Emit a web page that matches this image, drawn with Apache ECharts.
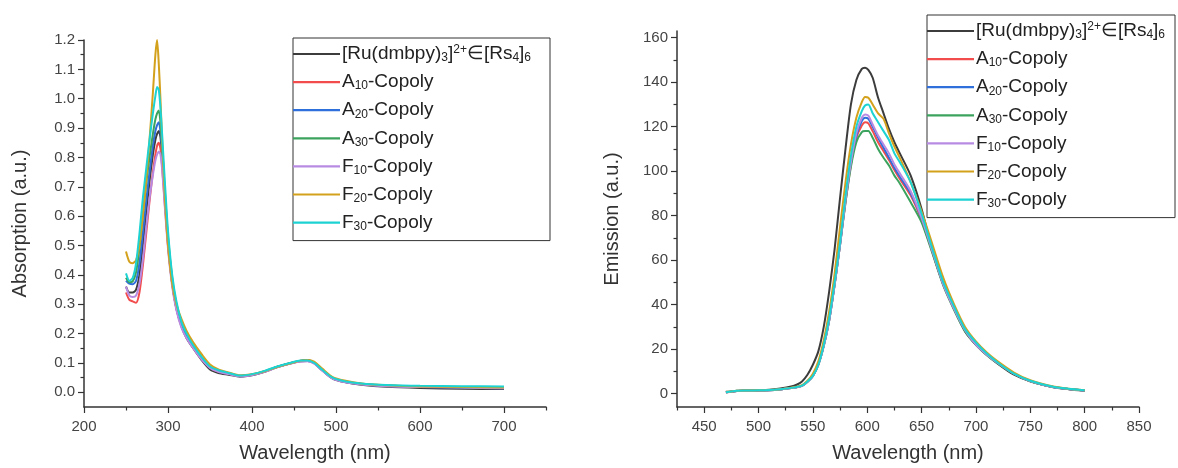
<!DOCTYPE html>
<html>
<head>
<meta charset="utf-8">
<script src="https://cdn.jsdelivr.net/npm/echarts@6/dist/echarts.min.js"></script>
<style>
html,body{margin:0;padding:0;background:#fff;}
#main{width:1178px;height:468px;}
</style>
</head>
<body>
<div id="main"></div>
<script>
// ---------- Absorption (left panel) ----------
const absWl = [250,254,258,262,266,270,274,278,282,285,287,289,291,293,296,300,305,310,316,322,330,340,350,360,372,386,400,415,430,445,458,466,474,484,496,510,530,560,600,650,700];
const absRu  = [0.36,0.34,0.34,0.35,0.40,0.50,0.61,0.72,0.81,0.86,0.88,0.89,0.87,0.80,0.67,0.51,0.37,0.285,0.225,0.185,0.15,0.11,0.078,0.066,0.060,0.053,0.058,0.070,0.086,0.099,0.108,0.110,0.100,0.074,0.047,0.035,0.026,0.019,0.015,0.012,0.011];
const absA10 = [0.34,0.315,0.31,0.305,0.34,0.43,0.54,0.65,0.75,0.81,0.84,0.85,0.83,0.77,0.65,0.50,0.37,0.285,0.225,0.188,0.152,0.113,0.084,0.071,0.063,0.055,0.060,0.071,0.086,0.098,0.106,0.107,0.099,0.074,0.048,0.036,0.028,0.022,0.019,0.017,0.015];
const absA20 = [0.38,0.37,0.368,0.38,0.44,0.54,0.65,0.75,0.84,0.89,0.91,0.92,0.89,0.82,0.68,0.52,0.38,0.29,0.23,0.19,0.155,0.115,0.085,0.072,0.064,0.055,0.060,0.071,0.086,0.098,0.106,0.107,0.099,0.074,0.048,0.036,0.028,0.022,0.018,0.016,0.014];
const absA30 = [0.39,0.375,0.378,0.41,0.49,0.60,0.71,0.80,0.88,0.93,0.95,0.96,0.92,0.84,0.70,0.53,0.39,0.30,0.24,0.20,0.16,0.12,0.087,0.074,0.065,0.056,0.061,0.072,0.087,0.099,0.107,0.108,0.100,0.075,0.049,0.037,0.029,0.023,0.019,0.017,0.015];
const absF10 = [0.36,0.33,0.325,0.33,0.37,0.45,0.56,0.66,0.74,0.79,0.81,0.82,0.81,0.76,0.64,0.49,0.36,0.28,0.22,0.185,0.15,0.112,0.083,0.070,0.062,0.054,0.059,0.070,0.085,0.097,0.105,0.106,0.098,0.073,0.047,0.035,0.027,0.021,0.018,0.016,0.014];
const absF20 = [0.48,0.445,0.44,0.45,0.50,0.60,0.72,0.86,1.02,1.15,1.20,1.12,1.00,0.86,0.68,0.50,0.37,0.30,0.25,0.21,0.17,0.13,0.095,0.078,0.068,0.058,0.062,0.072,0.086,0.098,0.108,0.110,0.105,0.080,0.052,0.040,0.030,0.024,0.020,0.018,0.016];
const absF30 = [0.405,0.38,0.39,0.44,0.54,0.66,0.76,0.86,0.95,1.01,1.04,1.03,0.97,0.88,0.73,0.55,0.40,0.31,0.24,0.20,0.16,0.12,0.088,0.075,0.066,0.057,0.062,0.073,0.088,0.100,0.108,0.108,0.100,0.076,0.050,0.038,0.030,0.025,0.022,0.021,0.020];

// ---------- Emission (right panel) ----------
const emWl = [470,475,480,490,500,510,520,530,535,540,545,550,555,560,565,570,575,580,585,590,595,598,601,605,610,615,620,625,630,640,650,660,670,680,690,700,710,720,735,750,770,785,800];
const emRu  = [0.8,1.0,1.3,1.4,1.5,1.7,2.3,3.2,4.0,5.5,8.5,13,19,30,46,65,88,110,130,141,146,146.5,145.5,142,133,126,119,113,108,98,83,64,49,38,28,22,17.5,13.5,8.5,5.5,3.0,2.0,1.3];
const emA10 = [0.5,0.9,1.2,1.3,1.4,1.5,1.9,2.5,2.9,3.5,5.3,8.0,13,21.5,33,49,67,86,103,115,120.5,122,121.5,118,113,109,105,100.5,96.5,89,78,63.5,49,38,28.5,22,17.5,13.8,9,5.6,3.1,2.1,1.4];
const emA20 = [0.6,0.9,1.2,1.3,1.4,1.5,1.9,2.5,2.9,3.5,5.3,8.0,13,21.5,33,49,67,87,104,116,122.5,124,123.5,120,115,110.5,106,101.5,97.5,90,79,64,49.5,38.5,28.5,22,17.5,13.8,9,5.7,3.1,2.1,1.4];
const emA30 = [0.6,0.9,1.2,1.3,1.4,1.5,1.9,2.5,2.9,3.5,5.3,8.0,13,21.5,33,49,67,86,102,113,117.5,118,118,115,110,106,102.5,98,94.5,86,77,63,48.5,37.5,28,22,17.3,13.6,8.9,5.6,3.1,2.1,1.4];
const emF10 = [0.6,0.9,1.2,1.3,1.4,1.5,1.9,2.5,2.9,3.5,5.3,8.0,13,21.5,33,49,67,87,104,117,124,125.5,125,121,116,112,108,103,99,91,79,64,49,38,28.5,22,17.5,13.8,9,5.7,3.1,2.1,1.4];
const emF20 = [0.7,1.0,1.3,1.4,1.5,1.6,2.0,2.7,3.1,3.8,5.8,9.0,14.5,24,37,54,75,95,112,124,131,133.3,133,130,126,123.5,117,111,106,95,82,67,52,40,30,23.5,18.5,14.5,9.5,6.0,3.3,2.2,1.5];
const emF30 = [0.6,1.0,1.3,1.4,1.5,1.6,2.0,2.6,3.0,3.6,5.5,8.0,13,22,34,50,68,89,107,120,127,129.5,130,126,122,118,114,108,104,95,81,65,50,39,29,23,18,14,9,5.8,3.2,2.2,1.5];

const seriesNames = ['[Ru(dmbpy)3]2+∈[Rs4]6','A10-Copoly','A20-Copoly','A30-Copoly','F10-Copoly','F20-Copoly','F30-Copoly'];
const seriesColors = ['#3c3c3c','#f24c4c','#2f6fdc','#3ca35e','#b88be3','#d4a11c','#1cd2d2'];
const absSets = [absRu,absA10,absA20,absA30,absF10,absF20,absF30];
const emSets  = [emRu,emA10,emA20,emA30,emF10,emF20,emF30];

// tick labels
const absYTicks = [0,0.1,0.2,0.3,0.4,0.5,0.6,0.7,0.8,0.9,1.0,1.1,1.2];
const absYMinor = [0.05,0.15,0.25,0.35,0.45,0.55,0.65,0.75,0.85,0.95,1.05,1.15];
const absXTicks = [200,300,400,500,600,700];
const absXMinor = [250,350,450,550,650,750];
const emYTicks = [0,20,40,60,80,100,120,140,160];
const emYMinor = [10,30,50,70,90,110,130,150];
const emXTicks = [450,500,550,600,650,700,750,800,850];
const emXMinor = [425,475,525,575,625,675,725,775,825];

const legendRichText = {
  '[Ru(dmbpy)3]2+∈[Rs4]6': '{n|[Ru(dmbpy)}{sb|3}{n|]}{sp|2+}{n|∈[Rs}{sb|4}{n|]}{sb|6}',
  'A10-Copoly': '{n|A}{sb|10}{n|-Copoly}',
  'A20-Copoly': '{n|A}{sb|20}{n|-Copoly}',
  'A30-Copoly': '{n|A}{sb|30}{n|-Copoly}',
  'F10-Copoly': '{n|F}{sb|10}{n|-Copoly}',
  'F20-Copoly': '{n|F}{sb|20}{n|-Copoly}',
  'F30-Copoly': '{n|F}{sb|30}{n|-Copoly}'
};

const FONT = 'Liberation Sans, Arial, sans-serif';
const AX = '#333';
const LBL = '#444';

function zip(xs, ys){ return xs.map((x,i)=>[x, ys[i]]); }

function legendCfg(left, top, padRight){
  return {
    left: left, top: top, orient: 'vertical',
    data: seriesNames,
    icon: 'rect',
    itemWidth: 47, itemHeight: 2.2, itemGap: 8.6,
    padding: [6, padRight, 8, 0],
    borderColor: '#333', borderWidth: 1, backgroundColor: '#fff',
    formatter: n => legendRichText[n],
    textStyle: {
      fontFamily: FONT, color: '#222', padding: [0,0,0,-3],
      rich: {
        n: {fontSize: 19, lineHeight: 20, fontFamily: FONT, color: '#222'},
        sb: {fontSize: 12, lineHeight: 10, verticalAlign: 'bottom', fontFamily: FONT, color: '#222'},
        sp: {fontSize: 12, lineHeight: 10, verticalAlign: 'top', fontFamily: FONT, color: '#222'}
      }
    }
  };
}

function valAxisMain(gridIndex, pos, min, max, ticks, fmt, name, nameGap, isY){
  return {
    type: 'value', gridIndex: gridIndex, position: pos, min: min, max: max,
    name: name, nameLocation: 'middle', nameGap: nameGap,
    nameTextStyle: {fontFamily: FONT, fontSize: 20, color: '#333'},
    axisLine: {show: true, onZero: false, lineStyle: {color: AX, width: 1.5}},
    axisTick: {show: true, inside: false, length: 6, customValues: ticks, lineStyle: {color: AX, width: 1.2}},
    axisLabel: {show: true, customValues: ticks, formatter: fmt, fontFamily: FONT, fontSize: 15, color: LBL, margin: isY ? 9 : 12},
    splitLine: {show: false}
  };
}
function valAxisMinor(gridIndex, pos, min, max, ticks){
  return {
    type: 'value', gridIndex: gridIndex, position: pos, min: min, max: max,
    axisLine: {show: false, onZero: false},
    axisTick: {show: true, inside: false, length: 3.5, customValues: ticks, lineStyle: {color: AX, width: 1.2}},
    axisLabel: {show: false},
    splitLine: {show: false}
  };
}

const series = [];
absSets.forEach((d,i)=>{
  series.push({name: seriesNames[i], type: 'line', xAxisIndex: 0, yAxisIndex: 0,
    data: zip(absWl, d), showSymbol: false, symbol: 'none', smooth: 0.25,
    lineStyle: {width: 2, color: seriesColors[i]}, itemStyle: {color: seriesColors[i]}, z: 2+i});
});
emSets.forEach((d,i)=>{
  series.push({name: seriesNames[i], type: 'line', xAxisIndex: 2, yAxisIndex: 2,
    data: zip(emWl, d), showSymbol: false, symbol: 'none', smooth: 0.25,
    lineStyle: {width: 2, color: seriesColors[i]}, itemStyle: {color: seriesColors[i]}, z: 2+i});
});

const chart = echarts.init(document.getElementById('main'), null, {renderer: 'canvas'});
chart.setOption({
  animation: false,
  backgroundColor: '#fff',
  textStyle: {fontFamily: FONT},
  grid: [
    {left: 84, right: 632, top: 40, bottom: 57},
    {left: 677, right: 39, top: 31, bottom: 56}
  ],
  xAxis: [
    valAxisMain(0, 'bottom', 200, 750, absXTicks, v => String(v), 'Wavelength (nm)', 36, false),
    valAxisMinor(0, 'bottom', 200, 750, absXMinor),
    valAxisMain(1, 'bottom', 425, 850, emXTicks, v => String(v), 'Wavelength (nm)', 36, false),
    valAxisMinor(1, 'bottom', 425, 850, emXMinor)
  ],
  yAxis: [
    valAxisMain(0, 'left', -0.05, 1.2, absYTicks, v => Number(v).toFixed(1), 'Absorption (a.u.)', 54, true),
    valAxisMinor(0, 'left', -0.05, 1.2, absYMinor),
    valAxisMain(1, 'left', -6, 163, emYTicks, v => String(Math.round(v)), 'Emission (a.u.)', 55, true),
    valAxisMinor(1, 'left', -6, 163, emYMinor)
  ],
  legend: [legendCfg(293, 38, 19), legendCfg(927, 15, 10)],
  series: series
});
</script>
</body>
</html>
